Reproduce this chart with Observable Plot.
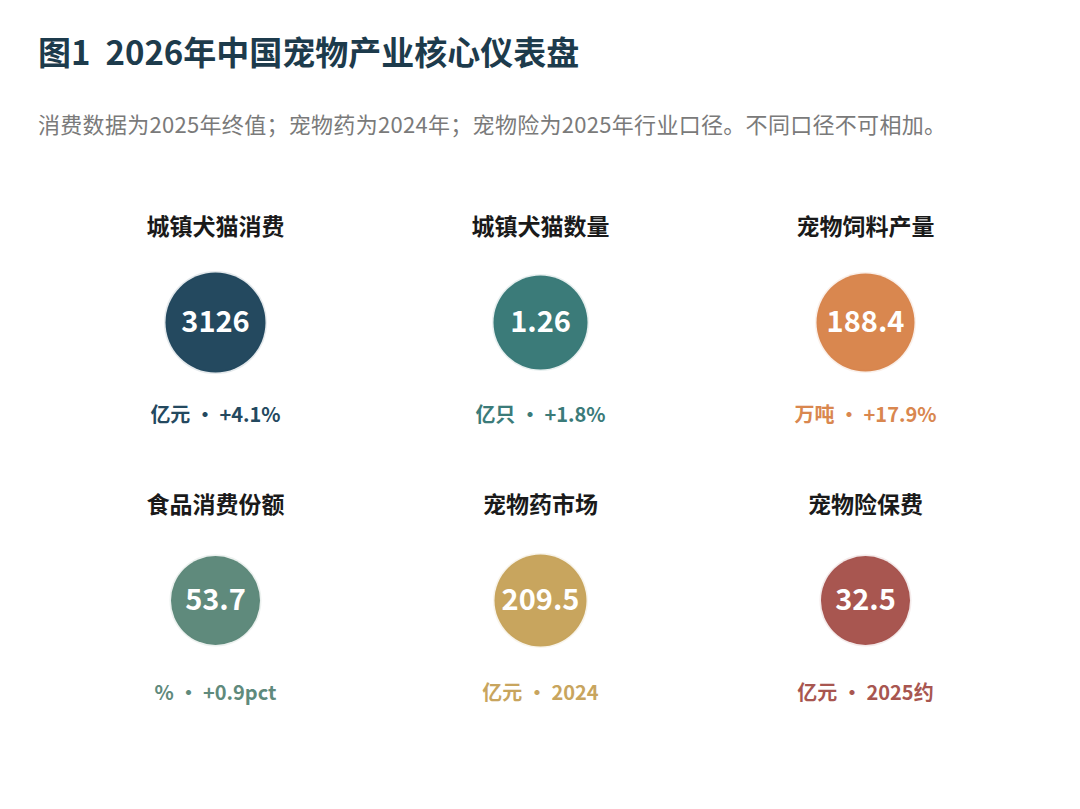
<!DOCTYPE html>
<html>
<head>
<meta charset="utf-8">
<script src="https://cdn.jsdelivr.net/npm/d3@7"></script>
<script src="https://cdn.jsdelivr.net/npm/@observablehq/plot@0.6"></script>
<style>
  html, body { margin: 0; padding: 0; background: #fff; }
  body { width: 1080px; height: 809px; overflow: hidden; font-family: "Noto Sans CJK SC", "Noto Sans", sans-serif; }
  #header { position: relative; height: 170px; }
  #title { position: absolute; left: 38px; top: 35px; margin: 0; font-size: 33px; line-height: 33px; font-weight: 700; color: #1d3b4c; white-space: pre; }
  #subtitle { position: absolute; left: 38px; top: 112px; margin: 0; font-size: 22px; line-height: 22px; letter-spacing: 0.3px; color: #7a7a7a; white-space: pre; }
  #chart svg { display: block; }
</style>
</head>
<body>
<div id="header">
  <h1 id="title">图1  2026年中国宠物产业核心仪表盘</h1>
  <p id="subtitle">消费数据为2025年终值；宠物药为2024年；宠物险为2025年行业口径。不同口径不可相加。</p>
</div>
<div id="chart"></div>
<script>
const titles = ["城镇犬猫消费", "城镇犬猫数量", "宠物饲料产量", "食品消费份额", "宠物药市场", "宠物险保费"];
const values = [3126, 1.26, 188.4, 53.7, 209.5, 32.5];
const units = ["亿元", "亿只", "万吨", "%", "亿元", "亿元"];
const notes = ["+4.1%", "+1.8%", "+17.9%", "+0.9pct", "2024", "2025约"];
const colors = ["#24495f", "#3b7b79", "#d9874f", "#5f8a7c", "#c8a55e", "#a85650"];
const emphasis = [1.0, 0.94, 0.98, 0.89, 0.92, 0.89];

const tiles = titles.map((t, i) => ({
  title: t,
  value: String(values[i]),
  label: `${units[i]} · ${notes[i]}`,
  color: colors[i],
  size: emphasis[i],
  col: i % 3,
  row: Math.floor(i / 3)
}));

const font = "Noto Sans CJK SC";
const chart = Plot.plot({
  width: 1080,
  height: 639,
  margin: 0,
  x: { type: "linear", domain: [0, 2], range: [215, 865], axis: null },
  y: { type: "linear", domain: [0, 1], range: [152, 430], axis: null },
  r: { type: "linear", domain: [0, 1], range: [0, 50] },
  color: { type: "identity" },
  style: { fontFamily: font, background: "#fff" },
  marks: [
    Plot.dot(tiles, { x: "col", y: "row", r: "size", fill: "color", stroke: "color", strokeOpacity: 0.12, strokeWidth: 3 }),
    Plot.text(tiles, { x: "col", y: "row", text: "value", fill: "white", fontSize: 29, fontWeight: "bold", fontFamily: font }),
    Plot.text(tiles, { x: "col", y: "row", text: "title", dy: -95, fill: "#1a1a1a", fontSize: 23, fontWeight: "bold", fontFamily: font }),
    Plot.text(tiles, { x: "col", y: "row", text: "label", dy: 93, fill: "color", fontSize: 20, fontWeight: "bold", fontFamily: font })
  ]
});
document.getElementById("chart").appendChild(chart);
</script>
</body>
</html>
